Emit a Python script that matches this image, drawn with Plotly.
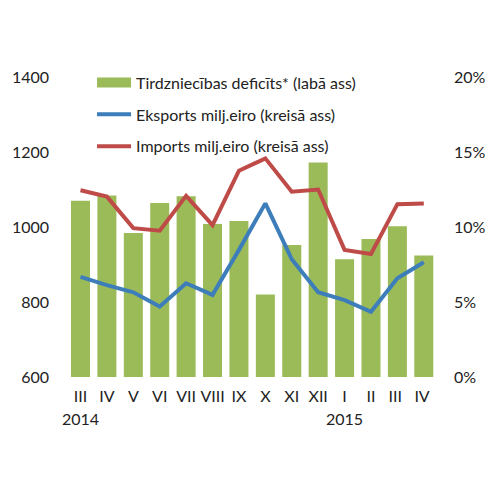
import plotly.graph_objects as go

# months (Roman numerals), Mar 2014 - Apr 2015
months = ["III", "IV", "V", "VI", "VII", "VIII", "IX", "X", "XI", "XII", "I", "II", "III ", "IV "]
deficit = [11.75, 12.1, 9.6, 11.6, 12.05, 10.2, 10.4, 5.5, 8.8, 14.3, 7.85, 9.2, 10.05, 8.1]
exports = [867, 845, 826, 788, 850, 819, 939, 1063, 914, 826, 805, 774, 863, 906]
imports = [1098, 1081, 997, 990, 1083, 1005, 1150, 1183, 1094, 1100, 939, 928, 1061, 1063]
years = [("2014", "III"), ("2015", "I")]

font_name = "Lato"
green = "#9BBB59"

fig = go.Figure()

# trade deficit bars on the right axis (primary so lines draw on top)
fig.add_trace(go.Bar(
    x=months, y=deficit, yaxis="y",
    name="Tirdzniecības deficīts* (labā ass)",
    marker=dict(color=green, line=dict(width=0)),
    showlegend=False,
))
# wide legend swatch for the bars
fig.add_trace(go.Scatter(
    x=[months[0]], y=[None], yaxis="y2", mode="lines",
    name="Tirdzniecības deficīts* (labā ass)",
    line=dict(color=green, width=10),
    legendgroup="a",
))
fig.add_trace(go.Scatter(
    x=months, y=exports, yaxis="y2", mode="lines",
    name="Eksports milj.eiro (kreisā ass)",
    line=dict(color="#3D7EBA", width=4),
    legendgroup="b",
))
fig.add_trace(go.Scatter(
    x=months, y=imports, yaxis="y2", mode="lines",
    name="Imports milj.eiro (kreisā ass)",
    line=dict(color="#BE4B48", width=4),
    legendgroup="c",
))

for yr, m in years:
    fig.add_annotation(
        x=m, y=0, xref="x", yref="paper", yanchor="middle", yshift=-41,
        text=yr, showarrow=False,
        font=dict(size=16, color="#222222", family=font_name),
    )

fig.update_layout(
    width=500, height=500,
    margin=dict(l=52, r=71, t=47, b=131),
    paper_bgcolor="white", plot_bgcolor="white",
    bargap=0.28,
    font=dict(family=font_name, size=16, color="#222222"),
    showlegend=True,
    legend=dict(
        x=0.085, y=0.967, xanchor="left", yanchor="top",
        bgcolor="rgba(0,0,0,0)",
        font=dict(size=16, color="#222222"),
        traceorder="grouped", tracegroupgap=8,
        itemwidth=34,
    ),
    xaxis=dict(
        type="category",
        showgrid=False, zeroline=False, showline=False, automargin=False,
        ticks="", ticklabelstandoff=8,
    ),
    yaxis=dict(
        range=[0, 20], dtick=5, side="right", domain=[0, 300 / 322],
        ticksuffix="%",
        showgrid=False, zeroline=False, showline=False, automargin=False,
        ticks="", ticklabelstandoff=16,
    ),
    yaxis2=dict(
        range=[600, 1400], dtick=200, side="left", overlaying="y",
        showgrid=False, zeroline=False, showline=False, automargin=False,
        ticks="", ticklabelstandoff=10,
    ),
)

fig.write_html("out.html")
